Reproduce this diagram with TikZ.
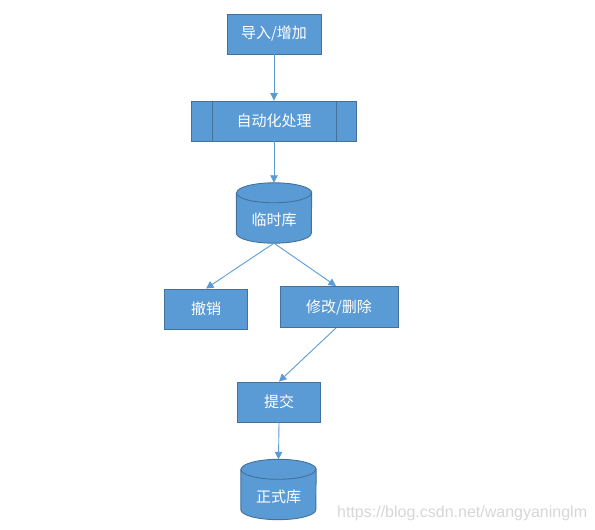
\documentclass[tikz,border=0pt]{standalone}
\usepackage{fontspec}
\newfontfamily\cjk{Noto Sans CJK SC}
\setsansfont{Liberation Sans}
\usetikzlibrary{arrows.meta,calc}
\definecolor{boxfill}{HTML}{5B9BD5}
\definecolor{boxline}{HTML}{41719C}
\definecolor{arrowc}{HTML}{5B9BD5}
\tikzset{
  procbox/.style={rectangle, draw=boxline, fill=boxfill, line width=0.9pt, text=white, font=\cjk\fontsize{15}{17}\selectfont, inner sep=0pt},
  cylbox/.style={rectangle, inner sep=0pt, minimum width=75pt, minimum height=60pt},
  cyltext/.style={text=white, font=\cjk\fontsize{15}{17}\selectfont, inner sep=0pt},
  cylpaint/.style={draw=boxline, fill=boxfill, line width=0.9pt},
  flow/.style={draw=arrowc, line width=0.9pt, -{Triangle[width=7.5pt,length=7.5pt]}},
}
\newcommand{\drawcylinder}[1]{%
  \path[cylpaint] ($(#1.north west)+(0,-10)$) -- ($(#1.south west)+(0,10)$)
    arc[start angle=180, end angle=360, x radius=37.5, y radius=10]
    -- ($(#1.north east)+(0,-10)$)
    arc[start angle=0, end angle=180, x radius=37.5, y radius=10] -- cycle;
  \draw[draw=boxline, line width=0.9pt] ($(#1.north west)+(0,-10)$)
    arc[start angle=180, end angle=360, x radius=37.5, y radius=10];
}
\begin{document}
\begin{tikzpicture}[x=1pt,y=1pt]
\useasboundingbox (0,0) rectangle (595,530);
% nodes
\node[procbox, minimum width=94pt, minimum height=40pt] (imp) at (274,496) {导入/增加};
\node[procbox, minimum width=165pt, minimum height=40pt] (auto) at (274,409) {自动化处理};
\draw[draw=boxline, line width=0.9pt] ($(auto.north west)+(21,0)$) -- ($(auto.south west)+(21,0)$);
\draw[draw=boxline, line width=0.9pt] ($(auto.north east)+(-21,0)$) -- ($(auto.south east)+(-21,0)$);
\node[cylbox] (tmp) at (274,317) {};
\drawcylinder{tmp}
\node[cyltext] (tmptxt) at ([yshift=-7pt]tmp.center) {临时库};
\node[procbox, minimum width=83pt, minimum height=40pt] (cancel) at (206,221) {撤销};
\node[procbox, minimum width=118pt, minimum height=41pt] (mod) at (339,223) {修改/删除};
\node[procbox, minimum width=83pt, minimum height=40pt] (submit) at (279,128) {提交};
\node[cylbox] (formal) at (278.5,40.5) {};
\drawcylinder{formal}
\node[cyltext] (formaltxt) at ([yshift=-7pt]formal.center) {正式库};
% connectors
\draw[flow] (imp.south) -- (auto.north);
\draw[flow] (auto.south) -- (tmp.north);
\draw[flow] (tmp.south) -- (cancel.north);
\draw[flow] (tmp.south) -- ([xshift=-3pt]mod.north);
\draw[flow] ([xshift=-3pt]mod.south) -- (submit.north);
\draw[flow] (submit.south) -- (formal.north);
% watermark
\node[text=black!16, font=\sffamily\fontsize{16}{18}\selectfont, inner sep=0pt, anchor=west] (wm) at (337,17) {https://blog.csdn.net/wangyaninglm};
\end{tikzpicture}
\end{document}
